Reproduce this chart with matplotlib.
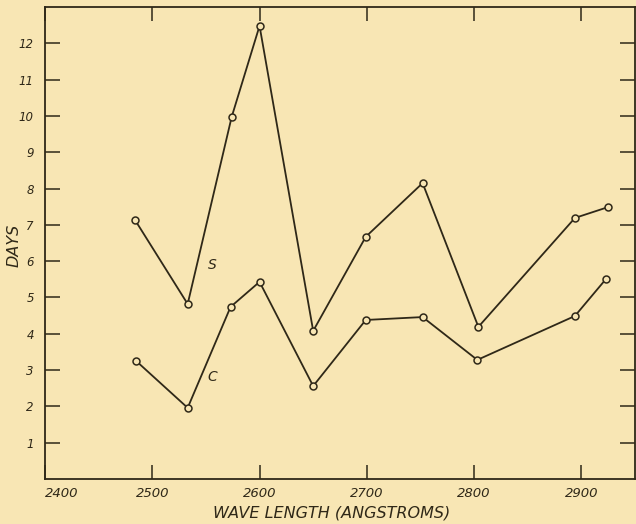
import matplotlib
matplotlib.use("Agg")
import matplotlib.pyplot as plt

# Data
wave_s = [2484, 2533, 2574, 2600, 2650, 2699, 2752, 2804, 2894, 2925]
days_s = [7.13, 4.82, 9.97, 12.48, 4.08, 6.67, 8.15, 4.19, 7.19, 7.49]
wave_c = [2485, 2533, 2573, 2600, 2650, 2699, 2752, 2803, 2894, 2923]
days_c = [3.25, 1.96, 4.74, 5.43, 2.56, 4.38, 4.46, 3.28, 4.49, 5.51]
x_ticks = [2400, 2500, 2600, 2700, 2800, 2900]
x_ticklabels = ["2400", "2500", "2600", "2700", "2800", "2900"]
y_ticks = [1, 2, 3, 4, 5, 6, 7, 8, 9, 10, 11, 12]
y_ticklabels = [str(v) for v in y_ticks]

BG = "#f8e6b4"
INK = "#2f2818"

plt.rcParams['font.family'] = ['DejaVu Sans']
fig = plt.figure(figsize=(6.36, 5.24), dpi=100, facecolor=BG)
ax = fig.add_axes([45/636, 45/524, 590/636, 472/524], facecolor=BG)

for xs, ys in ((wave_s, days_s), (wave_c, days_c)):
    ax.plot(xs, ys, color=INK, lw=1.3, marker='o', ms=5, mfc=BG,
            mec=INK, mew=1.1, zorder=3)

ax.text(2556, 5.9, "S", fontsize=10, style='italic', color=INK,
        ha='center', va='center')
ax.text(2556, 2.8, "C", fontsize=10, style='italic', color=INK,
        ha='center', va='center')

ax.set_xlim(2400, 2950)
ax.set_ylim(0, 13)

ax.set_xticks(x_ticks)
ax.set_xticklabels(x_ticklabels, fontsize=9.5, style='italic', color=INK)
ax.set_yticks(y_ticks)
ax.set_yticklabels(y_ticklabels, fontsize=8.5, style='italic', color=INK)
ax.tick_params(axis='x', direction='in', length=10, width=1.1, color=INK,
               top=True, bottom=True, pad=6)
ax.tick_params(axis='y', direction='in', length=11, width=1.1, color=INK,
               left=True, right=True, pad=8)
lbl0 = ax.get_xticklabels()[0]
lbl0.set_horizontalalignment('left')

for sp in ax.spines.values():
    sp.set_color(INK)
    sp.set_linewidth(1.3)

fig.text(332/636, 1 - 513/524, "WAVE LENGTH (ANGSTROMS)", fontsize=11.5,
         style='italic', color=INK, ha='center', va='center')
fig.text(14/636, 1 - 245/524, "DAYS", fontsize=11.5, style='italic',
         color=INK, ha='center', va='center', rotation=90)

fig.savefig("out.png", dpi=100, facecolor=BG)
